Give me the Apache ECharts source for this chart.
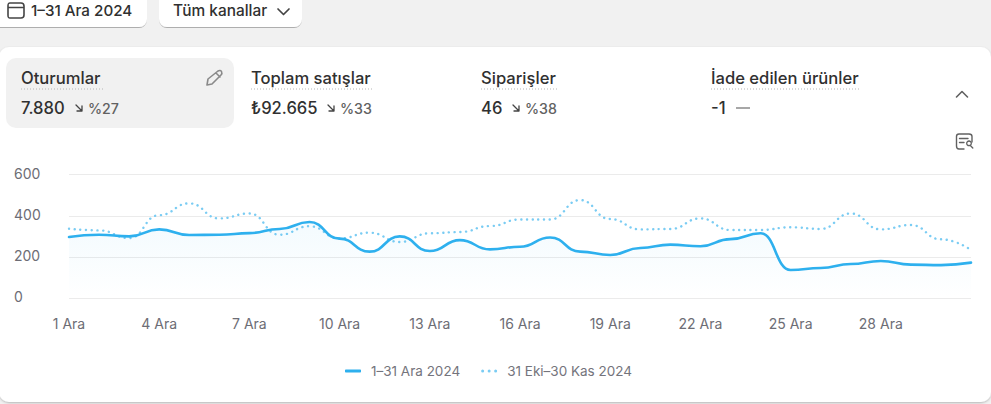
<!DOCTYPE html>
<html><head><meta charset="utf-8">
<style>html,body{margin:0;padding:0;background:#f1f1f1;overflow:hidden}#c{width:991px;height:404px}</style>
<script src="https://cdn.jsdelivr.net/npm/echarts@6/dist/echarts.min.js"></script>
</head><body><div id="c"></div>
<script>
const categories = ['1 Ara','2 Ara','3 Ara','4 Ara','5 Ara','6 Ara','7 Ara','8 Ara','9 Ara','10 Ara','11 Ara','12 Ara','13 Ara','14 Ara','15 Ara','16 Ara','17 Ara','18 Ara','19 Ara','20 Ara','21 Ara','22 Ara','23 Ara','24 Ara','25 Ara','26 Ara','27 Ara','28 Ara','29 Ara','30 Ara','31 Ara'];
const tickLabels = ['1 Ara','4 Ara','7 Ara','10 Ara','13 Ara','16 Ara','19 Ara','22 Ara','25 Ara','28 Ara'];
const current = [297,308,300,334,307,308,316,336,370,289,226,300,229,282,237,250,295,226,210,244,260,252,287,315,137,147,166,181,163,161,173];
const previous = [337,329,292,403,460,387,411,308,349,290,318,273,315,321,350,382,382,476,384,334,336,387,331,331,344,336,411,334,355,286,234];
const seriesNames = ['1–31 Ara 2024','31 Eki–30 Kas 2024'];
const metrics = [
  {title:'Oturumlar', value:'7.880', delta:'%27'},
  {title:'Toplam satışlar', value:'₺92.665', delta:'%33'},
  {title:'Siparişler', value:'46', delta:'%38'},
  {title:'İade edilen ürünler', value:'-1', delta:''}
];
const F = 'Inter, "Noto Sans", sans-serif';
const metricX = [21,251,481,711], titleW = [82,122,76,148], valueW=[44,66,21,15];
const g = [];
let shapeId = 0;
const rect=(x,y,w,h,r,fill,extra)=>g.push(Object.assign({type:'rect',shape:{x,y,width:w,height:h,r},style:{fill}},extra||{}));
const text=(x,y,t,font,fill)=>g.push({type:'text',x,y,style:{text:t,font,fill,verticalAlign:'middle'}});
const stroke=(d,color,w)=>{
  const name='icon'+(shapeId++);
  echarts.graphic.registerShape(name,echarts.graphic.extendPath(d,{}));
  g.push({type:name,style:{fill:'none',stroke:color,lineWidth:w,lineCap:'round',lineJoin:'round'}});
};
// top buttons
const btnShadow={style:{fill:'#fff',shadowColor:'rgba(0,0,0,0.28)',shadowBlur:1,shadowOffsetY:1}};
rect(-10,-10,157,37,8,'#fff',btnShadow);
rect(159,-10,143,37,8,'#fff',btnShadow);
stroke('M10 3H21C23 3 24 4 24 6V15C24 17 23 18 21 18H10C8 18 8 17 8 15V6C8 4 8 3 10 3ZM8 7.5H24','#444',1.6);
text(31,10.5,'1–31 Ara 2024','500 15.2px '+F,'#303030');
text(173,10.5,'Tüm kanallar','500 15.4px '+F,'#303030');
stroke('M278 9L283.5 14.5L289 9','#444',1.7);
// card
rect(-1,47,992,355,10,'#fff',{style:{fill:'#fff',shadowColor:'rgba(0,0,0,0.25)',shadowBlur:2,shadowOffsetY:1}});
rect(6,58,228,70,10,'#f1f1f1');
metrics.forEach((m,i)=>{
  const x=metricX[i];
  text(x,78,m.title,'500 16.6px '+F,'#303030');
  g.push({type:'line',shape:{x1:x,y1:89,x2:x+titleW[i],y2:89},style:{stroke:'#b5b5b5',lineWidth:1.2,lineDash:[1,2]}});
  text(x,108,m.value,'500 16.6px '+F,'#303030');
  const ax=x+valueW[i]+11;
  if(m.delta){
    stroke(`M${ax} 105L${ax+5.5} 110.5M${ax+6} 106V111H${ax+1}`,'#444',1.3);
    text(ax+12,108.5,m.delta,'500 14.2px '+F,'#616161');
  } else {
    g.push({type:'line',shape:{x1:736,y1:108,x2:750,y2:108},style:{stroke:'#8a8a8a',lineWidth:1.5}});
  }
});
// pencil
stroke('M207 85L208 79L218 71C219.5 70 221 70.5 221.5 71.5C222 72.5 222 74 221 75L212 84ZM216 73L220 77','#8a8a8a',1.6);
// chevron up
stroke('M956.5 97L962 91.5L967.5 97','#616161',1.6);
// report icon
stroke('M972 142V136.5C972 134.5 971 134 969 134H959C957 134 956.5 135 956.5 136.5V146C956.5 148 957 149 959 149H964M959.5 138.5H968M959.5 142.5H964','#616161',1.4);
stroke('M969 141A2.3 2.3 0 1 0 969 145.6A2.3 2.3 0 1 0 969 141M970.8 146L972.8 148','#616161',1.3);
const chart = echarts.init(document.getElementById('c'),null,{renderer:'svg'});
chart.setOption({
  animation:false,
  backgroundColor:'#f1f1f1',
  textStyle:{fontFamily:F},
  graphic:{elements:g.map(e=>Object.assign({z:-1,silent:true},e))},
  grid:{left:69,right:20,top:174.5,height:123.8,containLabel:false},
  xAxis:{type:'category',data:categories,boundaryGap:false,
    axisLine:{show:false},axisTick:{show:false},splitLine:{show:false},
    axisLabel:{interval:0,margin:18,fontSize:14,color:'#6d6d75',fontFamily:F,hideOverlap:false,
      formatter:v=>tickLabels.includes(v)?v:''}},
  yAxis:{type:'value',min:0,max:600,interval:200,
    axisLine:{show:false},axisTick:{show:false},
    splitLine:{lineStyle:{color:'#ebebeb',width:1}},
    axisLabel:{align:'left',margin:55,fontSize:14,color:'#6d6d75',fontFamily:F,verticalAlign:'bottom',lineHeight:3}},
  legend:{bottom:26,left:345,padding:0,itemWidth:16,itemHeight:3,itemGap:21,
    textStyle:{fontSize:13.5,color:'#74747c',fontFamily:F,padding:[0,0,0,5]},
    data:[{name:seriesNames[0],icon:'roundRect',itemStyle:{color:'#2eb0ee'}},
          {name:seriesNames[1],icon:'path://M0 1.5a1.5 1.5 0 1 0 3 0a1.5 1.5 0 1 0 -3 0M6.5 1.5a1.5 1.5 0 1 0 3 0a1.5 1.5 0 1 0 -3 0M13 1.5a1.5 1.5 0 1 0 3 0a1.5 1.5 0 1 0 -3 0',itemStyle:{color:'#7accf3'}}]},
  series:[
    {name:seriesNames[1],type:'line',data:previous,smooth:0.5,smoothMonotone:'x',symbol:'none',z:2,
      itemStyle:{color:'#7accf3'},
      lineStyle:{color:'#7accf3',width:2.4,type:[0.1,5.6],cap:'round'}},
    {name:seriesNames[0],type:'line',data:current,smooth:0.5,smoothMonotone:'x',symbol:'none',z:3,
      itemStyle:{color:'#2eb0ee'},
      lineStyle:{color:'#2eb0ee',width:2.6,cap:'round'},
      areaStyle:{origin:'start',color:{type:'linear',x:0,y:0,x2:0,y2:1,colorStops:[{offset:0,color:'rgba(46,176,238,0.08)'},{offset:1,color:'rgba(46,176,238,0)'}]}}}
  ]
});
</script></body></html>
